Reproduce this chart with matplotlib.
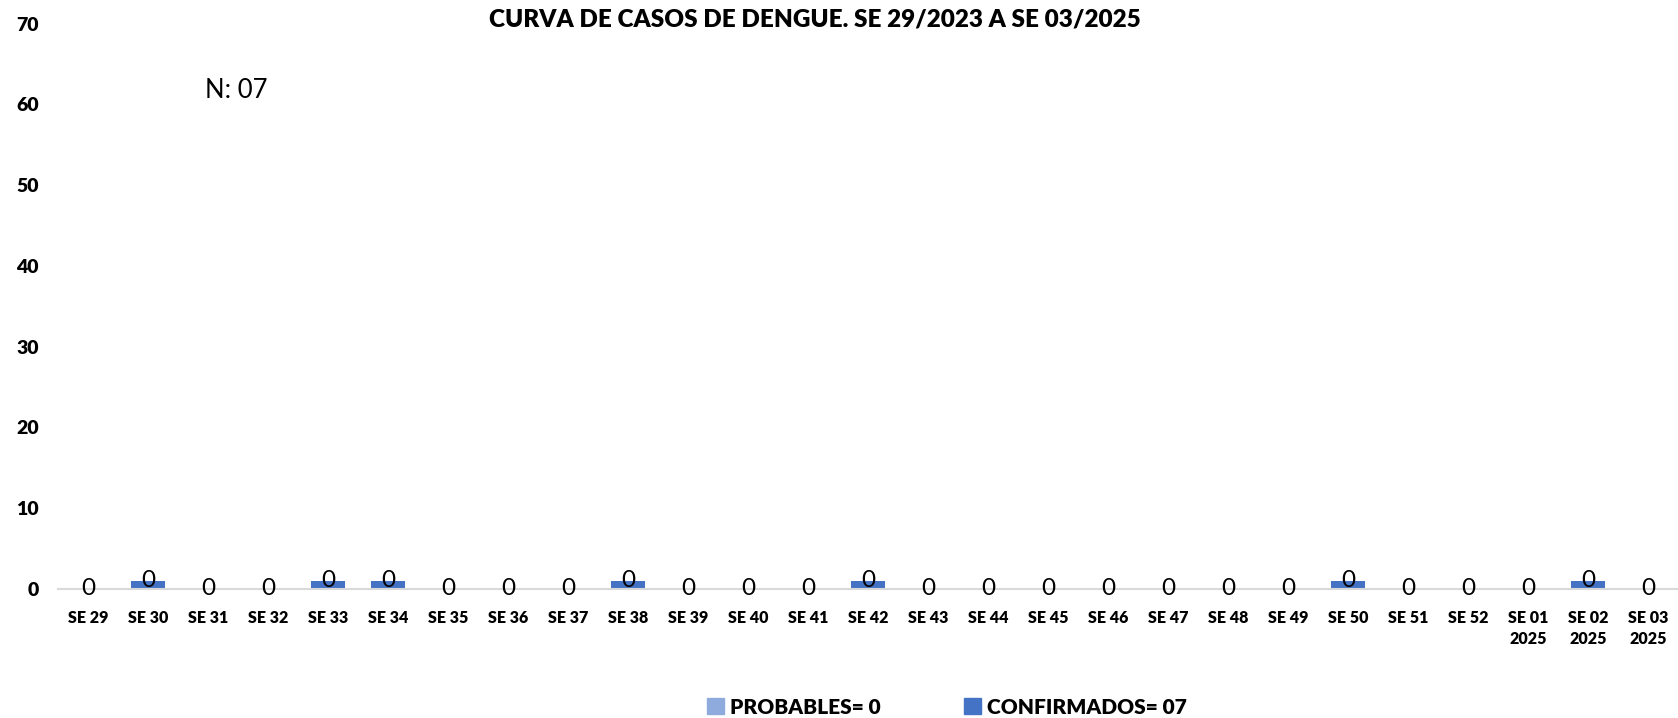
import matplotlib
matplotlib.use("Agg")
import matplotlib.pyplot as plt
from matplotlib.patches import Patch

plt.rcParams['font.family'] = ['Lato', 'DejaVu Sans']

categories = ["SE 29", "SE 30", "SE 31", "SE 32", "SE 33", "SE 34", "SE 35", "SE 36",
              "SE 37", "SE 38", "SE 39", "SE 40", "SE 41", "SE 42", "SE 43", "SE 44",
              "SE 45", "SE 46", "SE 47", "SE 48", "SE 49", "SE 50", "SE 51", "SE 52",
              "SE 01\n2025", "SE 02\n2025", "SE 03\n2025"]
confirmados = [0, 1, 0, 0, 1, 1, 0, 0, 0, 1, 0, 0, 0, 1, 0, 0, 0, 0, 0, 0, 0, 1, 0, 0, 0, 1, 0]
probables = [0] * len(categories)
y_ticks = [0, 10, 20, 30, 40, 50, 60, 70]

c_conf = "#4472C4"
c_prob = "#8FAADC"

fig = plt.figure(figsize=(16.78, 7.18), dpi=100)
ax = fig.add_axes([0.0346, 0.18, 0.9654, 0.787])

x = list(range(len(categories)))
ax.bar(x, confirmados, width=0.58, color=c_conf, label="CONFIRMADOS= 07")
bp = ax.bar(x, probables, width=0.58, bottom=confirmados, color=c_prob, label="PROBABLES= 0")
ax.bar_label(bp, labels=[str(v) for v in probables], label_type='center', fontsize=17.5, color='black')

ax.set_xlim(-0.5, len(categories) - 0.5)
ax.set_ylim(0, 70)
ax.set_yticks(y_ticks)
ax.set_yticklabels([str(v) for v in y_ticks], fontsize=14, fontweight='heavy')
ax.set_xticks(x)
ax.set_xticklabels(categories, fontsize=11.5, fontweight='heavy', linespacing=1.4)
ax.tick_params(axis='y', length=0, pad=14)
ax.tick_params(axis='x', length=0, pad=15)
for s in ['top', 'right', 'left']:
    ax.spines[s].set_visible(False)
ax.spines['bottom'].set_color('#D9D9D9')
ax.spines['bottom'].set_linewidth(1.5)

fig.text(815 / 1678, 1 - 19 / 718, "CURVA DE CASOS DE DENGUE. SE 29/2023 A SE 03/2025",
         ha='center', va='center', fontsize=17.5, fontweight='heavy')
fig.text(205 / 1678, 1 - 90 / 718, "N: 07", ha='left', va='center', fontsize=18.5)

handles = [Patch(color=c_prob, label="PROBABLES= 0"), Patch(color=c_conf, label="CONFIRMADOS= 07")]
leg = fig.legend(handles=handles, loc='center', bbox_to_anchor=(947 / 1678, 1 - 707 / 718),
                 ncol=2, frameon=False, prop={'weight': 'heavy', 'size': 15},
                 handlelength=0.8, handleheight=0.8, columnspacing=4, handletextpad=0.3)

fig.savefig("out.png", dpi=100)
